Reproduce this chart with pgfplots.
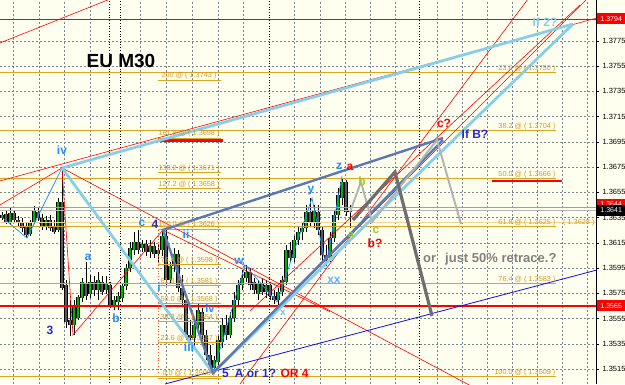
\documentclass[border=0pt]{standalone}
\usepackage{pgfplots}
\pgfplotsset{compat=1.18}
\usepackage{pgfplotstable}
\usepackage{fontspec}
\setmainfont{Liberation Sans}

\definecolor{bgc}{HTML}{FFFFF0}
\definecolor{gridc}{HTML}{7A8696}
\definecolor{fibc}{HTML}{DAA520}
\definecolor{fibt}{HTML}{D49A20}
\definecolor{sky}{HTML}{87CEEB}
\definecolor{steel}{HTML}{5A78B4}
\definecolor{dodger}{HTML}{1E90FF}
\definecolor{dblue}{HTML}{2B2BCC}
\definecolor{ygreen}{HTML}{9ACD32}
\definecolor{bullc}{HTML}{00B400}
\definecolor{bearc}{HTML}{5A5A5A}
\definecolor{dgray}{HTML}{6E6E6E}
\definecolor{lgray}{HTML}{B4B4B4}
\definecolor{lred}{HTML}{FF7878}
\definecolor{txtgray}{HTML}{808080}
\definecolor{dblueline}{HTML}{1010E0}
\definecolor{redor}{HTML}{FF5020}

\pgfplotstableread{
x o h l c
2 1.36347 1.36394 1.36331 1.36370
6 1.36378 1.36410 1.36299 1.36315
10 1.36315 1.36426 1.36291 1.36386
14 1.36386 1.36402 1.36307 1.36331
18 1.36331 1.36363 1.36283 1.36315
22 1.36315 1.36347 1.36236 1.36267
26 1.36283 1.36315 1.36188 1.36212
30 1.36220 1.36331 1.36204 1.36315
34 1.36315 1.36442 1.36299 1.36410
38 1.36394 1.36426 1.36323 1.36347
42 1.36347 1.36378 1.36252 1.36283
46 1.36275 1.36363 1.36252 1.36331
50 1.36331 1.36370 1.36244 1.36267
54 1.36283 1.36331 1.36220 1.36236
58 1.36252 1.36505 1.36236 1.36473
62 1.36473 1.36743 1.35776 1.35792
66 1.35816 1.35856 1.35475 1.35523
70 1.35539 1.35697 1.35412 1.35499
74 1.35499 1.35697 1.35420 1.35658
78 1.35555 1.35737 1.35539 1.35721
82 1.35713 1.35871 1.35681 1.35840
86 1.35824 1.35998 1.35697 1.35729
90 1.35745 1.35895 1.35713 1.35840
94 1.35840 1.35887 1.35729 1.35776
98 1.35776 1.35919 1.35697 1.35856
102 1.35840 1.35887 1.35737 1.35761
106 1.35776 1.35887 1.35745 1.35832
110 1.35816 1.35840 1.35634 1.35658
114 1.35658 1.35729 1.35618 1.35697
118 1.35681 1.35761 1.35618 1.35729
122 1.35713 1.35832 1.35681 1.35808
126 1.35808 1.35982 1.35776 1.35951
130 1.35951 1.36157 1.35919 1.36109
134 1.36093 1.36236 1.36054 1.36157
138 1.36157 1.36252 1.36062 1.36093
142 1.36109 1.36172 1.36077 1.36141
146 1.36141 1.36172 1.36046 1.36077
150 1.36077 1.36172 1.36030 1.36125
154 1.36125 1.36157 1.36030 1.36062
158 1.36062 1.36141 1.35998 1.36093
162 1.36093 1.36260 1.36046 1.36204
166 1.36204 1.36252 1.35808 1.35856
170 1.35856 1.35998 1.35824 1.35967
174 1.35967 1.36109 1.35919 1.36062
178 1.36062 1.36093 1.35761 1.35792
182 1.35792 1.35895 1.35658 1.35697
186 1.35697 1.35729 1.35380 1.35420
190 1.35420 1.35539 1.35341 1.35396
194 1.35396 1.35523 1.35333 1.35499
198 1.35499 1.35673 1.35460 1.35618
202 1.35602 1.35634 1.35380 1.35420
206 1.35420 1.35460 1.35222 1.35262
210 1.35262 1.35341 1.35127 1.35159
214 1.35159 1.35254 1.35111 1.35222
218 1.35206 1.35412 1.35159 1.35380
222 1.35365 1.35555 1.35317 1.35499
226 1.35499 1.35578 1.35380 1.35420
230 1.35420 1.35602 1.35396 1.35555
234 1.35555 1.35761 1.35523 1.35697
238 1.35697 1.35856 1.35658 1.35816
242 1.35816 1.35935 1.35776 1.35871
246 1.35871 1.35974 1.35840 1.35919
250 1.35919 1.35951 1.35776 1.35816
254 1.35840 1.35871 1.35745 1.35776
258 1.35745 1.35856 1.35697 1.35824
262 1.35824 1.35871 1.35737 1.35761
266 1.35761 1.35856 1.35713 1.35816
270 1.35816 1.35840 1.35697 1.35729
274 1.35729 1.35776 1.35666 1.35697
278 1.35697 1.35792 1.35658 1.35761
282 1.35761 1.35887 1.35729 1.35856
286 1.35840 1.36133 1.35816 1.36093
290 1.36093 1.36157 1.35998 1.36030
294 1.36030 1.36204 1.35998 1.36172
298 1.36172 1.36283 1.36133 1.36236
302 1.36236 1.36315 1.36172 1.36267
306 1.36267 1.36450 1.36236 1.36394
310 1.36394 1.36505 1.36283 1.36315
314 1.36315 1.36450 1.36267 1.36410
318 1.36394 1.36450 1.36212 1.36252
322 1.36252 1.36283 1.35998 1.36054
326 1.36054 1.36133 1.35967 1.36014
330 1.36030 1.36236 1.35998 1.36188
334 1.36188 1.36410 1.36157 1.36370
338 1.36370 1.36584 1.36331 1.36529
342 1.36505 1.36663 1.36450 1.36631
346 1.36631 1.36648 1.36363 1.36394
350 1.36394 1.36450 1.36267 1.36410
}\candles

\tikzset{
  wl/.style={font=\fontsize{12}{12}\selectfont\bfseries, inner sep=0pt},
  fibl/.style={font=\fontsize{7.3}{7.5}\selectfont, text=fibt, inner sep=0.4pt},
  ptag/.style={font=\fontsize{7}{7}\selectfont, text=white, anchor=west, inner sep=0pt, minimum width=28pt, minimum height=11pt}
}

\begin{document}
\begin{tikzpicture}
\path[use as bounding box, fill=bgc] (0,0) rectangle (625pt,384pt);
\begin{axis}[
  at={(0,0)}, anchor=south west,
  scale only axis, width=596pt, height=384pt,
  xmin=0, xmax=596, ymin=1.350319, ymax=1.380732,
  axis x line*=bottom, axis y line*=right,
  axis line style={-},
  x axis line style={draw=none},
  y axis line style={black, line width=0.8pt},
  xtick={13,39,64,90,140,166,192,218,243,294,320,345,370,395,437,462,487,512,537,562,587},
  xticklabels={}, xtick style={draw=none},
  ytick={1.3515,1.3535,1.3555,1.3575,1.3595,1.3615,1.3635,1.3655,1.3675,1.3695,1.3715,1.3735,1.3755,1.3775},
  ytick style={black, line width=0.5pt}, tick align=outside, major tick length=3pt,
  yticklabel style={font=\fontsize{7.5}{8}\selectfont, /pgf/number format/.cd, fixed, precision=4, fixed zerofill, assume math mode=true},
  xmajorgrids, ymajorgrids,
  major grid style={gridc, dash pattern=on 2pt off 2pt, line width=0.5pt},
]
% period separators
\addplot[black, dotted, line width=0.7pt] coordinates {(109,1.3500) (109,1.3810)};
\addplot[black, dotted, line width=0.7pt] coordinates {(120,1.3500) (120,1.3810)};
\addplot[black, dotted, line width=0.7pt] coordinates {(269,1.3500) (269,1.3810)};
\addplot[black, dotted, line width=0.7pt] coordinates {(419,1.3500) (419,1.3810)};

% candles: wicks
\addplot[draw=none, mark=none, error bars/.cd, y dir=plus, y explicit, error mark=none,
  error bar style={draw=black, line width=0.7pt, solid}]
  table[x=x, y=l, y error expr=\thisrow{h}-\thisrow{l}] {\candles};
% bear bodies
\addplot[draw=none, mark=none, restrict expr to domain={\thisrow{o}-\thisrow{c}}{0:1},
  error bars/.cd, y dir=plus, y explicit, error mark=none,
  error bar style={draw=black, line width=3.4pt, solid}]
  table[x=x, y=c, y error expr=\thisrow{o}-\thisrow{c}] {\candles};
\addplot[draw=none, mark=none, restrict expr to domain={\thisrow{o}-\thisrow{c}}{0:1},
  error bars/.cd, y dir=plus, y explicit, error mark=none,
  error bar style={draw=bearc, line width=1.8pt, solid}]
  table[x=x, y=c, y error expr=\thisrow{o}-\thisrow{c}] {\candles};
% bull bodies
\addplot[draw=none, mark=none, restrict expr to domain={\thisrow{c}-\thisrow{o}}{0:1},
  error bars/.cd, y dir=plus, y explicit, error mark=none,
  error bar style={draw=black, line width=3.4pt, solid}]
  table[x=x, y=o, y error expr=\thisrow{c}-\thisrow{o}] {\candles};
\addplot[draw=none, mark=none, restrict expr to domain={\thisrow{c}-\thisrow{o}}{0:1},
  error bars/.cd, y dir=plus, y explicit, error mark=none,
  error bar style={draw=bullc, line width=1.8pt, solid}]
  table[x=x, y=o, y error expr=\thisrow{c}-\thisrow{o}] {\candles};

% horizontal levels
\addplot[red, line width=0.8pt] coordinates {(0,1.37923) (596,1.37923)};
\addplot[red, line width=1.1pt] coordinates {(0,1.3565) (596,1.3565)};
\addplot[lred, line width=0.8pt] coordinates {(0,1.36434) (596,1.36434)};
\addplot[lgray, line width=1.6pt] coordinates {(0,1.36406) (596,1.36406)};
% right fibonacci
\addplot[fibc, line width=0.8pt] coordinates {(0,1.3750) (556,1.3750)};
\addplot[fibc, line width=0.8pt] coordinates {(0,1.3704) (556,1.3704)};
\addplot[fibc, line width=0.8pt] coordinates {(0,1.3666) (556,1.3666)};
\addplot[fibc!45, line width=1.6pt] coordinates {(0,1.3631) (596,1.3631)};
\addplot[fibc, line width=0.8pt] coordinates {(0,1.3628) (556,1.3628)};
\addplot[fibc, line width=0.8pt] coordinates {(0,1.3583) (556,1.3583)};
\addplot[fibc, line width=0.8pt] coordinates {(0,1.3509) (556,1.3509)};
% left fibonacci
\addplot[fibc, line width=0.8pt] coordinates {(158,1.3744) (221,1.3744)};
\addplot[fibc, line width=0.8pt] coordinates {(158,1.3698) (221,1.3698)};
\addplot[fibc, line width=0.8pt] coordinates {(158,1.3671) (221,1.3671)};
\addplot[fibc, line width=0.8pt] coordinates {(158,1.3658) (221,1.3658)};
\addplot[fibc, line width=0.8pt] coordinates {(158,1.3626) (221,1.3626)};
\addplot[fibc, line width=0.8pt] coordinates {(158,1.3598) (221,1.3598)};
\addplot[fibc, line width=0.8pt] coordinates {(158,1.3581) (221,1.3581)};
\addplot[fibc, line width=0.8pt] coordinates {(158,1.3567) (221,1.3567)};
\addplot[fibc, line width=0.8pt] coordinates {(158,1.3553) (221,1.3553)};
\addplot[fibc, line width=0.8pt] coordinates {(158,1.3536) (221,1.3536)};
\addplot[fibc, line width=0.8pt] coordinates {(158,1.3508) (221,1.3508)};
\addplot[redor, dotted, line width=0.9pt] coordinates {(158,1.36252) (158,1.35119)};
% thick red marks
\addplot[red, line width=2.4pt] coordinates {(158,1.3696) (223,1.3696)};
\addplot[red, line width=2.4pt] coordinates {(492,1.3664) (562,1.3664)};

% red thin trend lines
\addplot[red, line width=0.6pt] coordinates {(0,1.37733) (130,1.38144)};
\addplot[red, line width=0.6pt] coordinates {(0,1.36640) (597,1.37931)};
\addplot[red, line width=0.6pt] coordinates {(0,1.36450) (62,1.36743) (73,1.35420) (163,1.36252)};
\addplot[red, line width=0.6pt] coordinates {(62,1.36743) (480,1.34978)};
\addplot[red, line width=0.6pt] coordinates {(163,1.36252) (330,1.35604)};
\addplot[red, line width=0.6pt] coordinates {(213,1.35119) (600,1.38184)};
\addplot[red, line width=0.6pt] coordinates {(240,1.35032) (540,1.38208)};
\addplot[red, line width=0.6pt] coordinates {(250,1.35610) (580,1.38034)};

% dark blue line
\addplot[dblueline, line width=0.8pt] coordinates {(165,1.35032) (597,1.35935)};

% dodger thin wave lines
\addplot[dodger, line width=0.7pt] coordinates {(3,1.36347) (27,1.36188) (62,1.36743)};
\addplot[dodger, line width=0.7pt] coordinates {(213,1.35119) (245,1.35974) (277,1.35681) (312,1.36505) (326,1.35966) (342,1.36679)};

% sky blue thick lines
\addplot[sky, line width=2.8pt] coordinates {(62,1.36743) (573,1.37883)};
\addplot[sky, line width=2.8pt] coordinates {(62,1.36743) (213,1.35119) (573,1.37883)};
% steel blue thick lines
\addplot[steel, line width=2.4pt] coordinates {(443,1.36980) (163,1.36252) (213,1.35119) (443,1.36964)};

% gray projections
\addplot[lgray, line width=2pt] coordinates {(350,1.36394) (361,1.36632) (372,1.36315) (437,1.36964) (461,1.36299)};
\addplot[dgray, line width=3.2pt] coordinates {(353,1.36331) (395,1.36711) (432,1.35571)};

% fib labels left
\node[fibl, anchor=south] at (axis cs:189,1.3744) {200 @ ( 1.3743 )};
\node[fibl, anchor=south] at (axis cs:189,1.3698) {161.8 @ ( 1.3698 )};
\node[fibl, anchor=south] at (axis cs:189,1.3671) {138.2 @ ( 1.3671 )};
\node[fibl, anchor=south] at (axis cs:189,1.3658) {127.2 @ ( 1.3658 )};
\node[fibl, anchor=south] at (axis cs:189,1.3626) {100.0 @ ( 1.3626 )};
\node[fibl, anchor=south] at (axis cs:189,1.3598) {76.4 @ ( 1.3598 )};
\node[fibl, anchor=south] at (axis cs:189,1.3581) {61.8 @ ( 1.3581 )};
\node[fibl, anchor=south] at (axis cs:189,1.3567) {50.0 @ ( 1.3568 )};
\node[fibl, anchor=south] at (axis cs:189,1.3553) {38.2 @ ( 1.3554 )};
\node[fibl, anchor=south] at (axis cs:189,1.3536) {23.6 @ ( 1.3537 )};
\node[fibl, anchor=south] at (axis cs:189,1.3508) {0.0 @ ( 1.3508 )};
% fib labels right
\node[fibl, anchor=south east] at (axis cs:556,1.3750) {23.6 @ ( 1.3750 )};
\node[fibl, anchor=south east] at (axis cs:556,1.3704) {38.2 @ ( 1.3704 )};
\node[fibl, anchor=south east] at (axis cs:556,1.3666) {50.0 @ ( 1.3666 )};
\node[fibl, anchor=south east] at (axis cs:556,1.3628) {61.8 @ ( 1.3625 )};
\node[fibl, anchor=south east] at (axis cs:595,1.3628) {( 1.3628 )};
\node[fibl, anchor=south east] at (axis cs:556,1.3583) {76.4 @ ( 1.3583 )};
\node[fibl, anchor=south east] at (axis cs:556,1.3509) {100.0 @ ( 1.3509 )};

% titles and wave labels
\node[font=\fontsize{19}{19}\selectfont\bfseries, inner sep=0pt] at (axis cs:121,1.37590) {EU M30};
\node[wl, text=dodger] at (axis cs:62,1.36885) {iv};
\node[wl, text=dblue] at (axis cs:50,1.35460) {3};
\node[wl, text=dodger] at (axis cs:88,1.36038) {a};
\node[wl, text=dodger] at (axis cs:116,1.35555) {b};
\node[wl, text=dodger] at (axis cs:142,1.36307) {c};
\node[wl, text=dblue] at (axis cs:155,1.36299) {4};
\node[wl, text=dodger] at (axis cs:186,1.36220) {ii};
\node[wl, text=dodger] at (axis cs:159,1.35800) {i};
\node[wl, text=dodger, font=\fontsize{11}{11}\selectfont\bfseries] at (axis cs:210,1.35632) {iv};
\node[wl, text=dodger] at (axis cs:189,1.35320) {iii};
\node[wl, text=dblue, anchor=west] at (axis cs:222,1.35119) {5\hspace{6pt}A or 1? \textcolor{red}{OR 4}};
\node[wl, text=dodger] at (axis cs:239,1.36006) {w};
\node[wl, text=dodger!60, font=\fontsize{10}{10}\selectfont\bfseries] at (axis cs:283,1.35594) {x};
\node[wl, text=dodger] at (axis cs:311,1.36560) {y};
\node[wl, text=dodger!70] at (axis cs:334,1.35856) {xx};
\node[wl, text=dodger] at (axis cs:339,1.36759) {z};
\node[wl, text=red] at (axis cs:350,1.36750) {a};
\node[wl, text=ygreen] at (axis cs:362,1.36640) {b};
\node[wl, text=ygreen, font=\fontsize{10}{10}\selectfont\bfseries] at (axis cs:351,1.36212) {a};
\node[wl, text=ygreen] at (axis cs:376,1.36252) {c};
\node[wl, text=red] at (axis cs:375,1.36149) {b?};
\node[wl, text=red] at (axis cs:444,1.37099) {c?};
\node[wl, text=dblue] at (axis cs:475,1.37012) {If B?};
\node[wl, text=sky] at (axis cs:545,1.37899) {If 2?};
\node[font=\fontsize{13}{13}\selectfont\bfseries, text=txtgray, anchor=west, inner sep=0pt] at (axis cs:423,1.36022) {or\hspace{9pt}just 50\% retrace.?};

% anchors for price tags
\coordinate (t1794) at (axis cs:597,1.37923);
\coordinate (t1644) at (axis cs:597,1.36455);
\coordinate (t1641) at (axis cs:597,1.36406);
\coordinate (t1565) at (axis cs:597,1.3565);
\end{axis}
\node[ptag, fill=red] at (t1794) {1.3794};
\node[ptag, fill=red] at (t1644) {1.3644};
\node[ptag, fill=black] at (t1641) {1.3641};
\node[ptag, fill=red] at (t1565) {1.3565};
\end{tikzpicture}
\end{document}
